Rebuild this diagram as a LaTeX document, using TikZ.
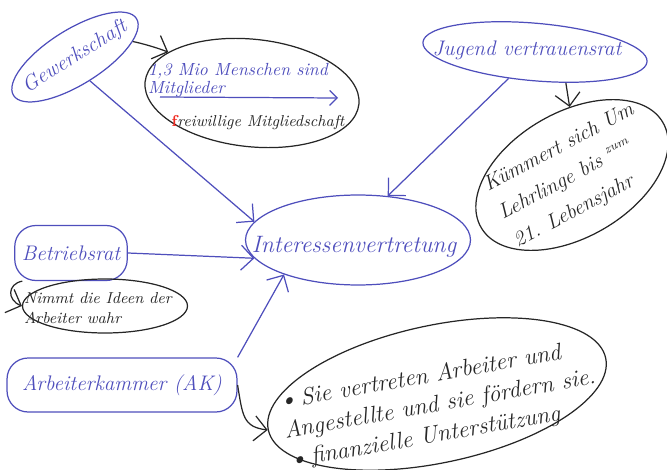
\documentclass[tikz,border=0pt]{standalone}
\usepackage{xcolor}
\usepackage{tikz}
\usetikzlibrary{arrows.meta, positioning, shapes.geometric}

\definecolor{penblue}{RGB}{78,78,188}
\definecolor{penblack}{RGB}{38,38,38}
\definecolor{penred}{RGB}{240,45,35}

\begin{document}
\begin{tikzpicture}[
    x=0.02cm, y=-0.02cm,
    bubble/.style={draw, ellipse, line width=0.7pt, inner sep=0pt},
    bluebubble/.style={bubble, draw=penblue},
    blackbubble/.style={bubble, draw=penblack},
    bluebox/.style={draw=penblue, rounded corners=12pt, line width=0.7pt, inner sep=0pt, text=penblue, font=\large\itshape},
    bluetext/.style={text=penblue, align=left, inner sep=0pt, font=\large\itshape},
    blacktext/.style={text=penblack, align=left, inner sep=0pt, font=\itshape},
    bluearrow/.style={-{Straight Barb[length=2.5mm]}, draw=penblue, line width=0.7pt},
    blackarrow/.style={-{Straight Barb[length=2.5mm]}, draw=penblack, line width=0.7pt}
  ]
    \useasboundingbox (0,0) rectangle (667,470);
    \node[bluebubble, rotate=32, minimum width=2.9cm, minimum height=1.1cm] (gewerkschaft) at (75,57) {};
    \node[bluetext, rotate=32] (gewerkschaft-text) at (gewerkschaft) {Gewerkschaft};
    \node[blackbubble, rotate=-6, minimum width=4.3cm, minimum height=2.15cm] (mitglied) at (252,93) {};
    \node[bluetext, font=\itshape] (menschen) at (238,80) {1,3 Mio Menschen sind\\[-2pt]Mitglieder};
    \node[blacktext, font=\small\itshape, below=0.35cm of menschen, xshift=0.4cm] (freiwillig) {\textcolor{penred}{\upshape\bfseries f}reiwillige Mitgliedschaft};
    \coordinate (strich-start) at (160,97);
    \coordinate (strich-end) at (338,98);
    \node[bluebubble, rotate=-5, minimum width=4.5cm, minimum height=1.15cm] (jugend) at (535,52) {};
    \node[bluetext] (jugend-text) at (527,50) {Jugend vertrauensrat};
    \node[blackbubble, rotate=30, minimum width=4.2cm, minimum height=2.5cm] (kuemmert) at (572,175) {};
    \node[blacktext, rotate=28, font=\large\itshape] (kuemmert-text) at (574,176) {Kümmert sich Um\\[4pt]Lehrlinge bis \raisebox{5pt}{\scriptsize zum}\\[4pt]21. Lebensjahr};
    \node[bluebubble, minimum width=4.5cm, minimum height=1.8cm] (interessen) at (358,240) {};
    \node[bluetext, font=\fontsize{13.5}{16}\itshape] (interessen-text) at (354,247) {Interessenvertretung};
    \node[bluebox, minimum width=2.25cm, minimum height=1.1cm] (betriebsrat) at (71,253) {Betriebsrat};
    \node[blackbubble, minimum width=3.3cm, minimum height=1.08cm] (nimmt) at (105,306) {};
    \node[blacktext, font=\small\itshape] (nimmt-text) at (98,308) {Nimmt die Ideen der\\Arbeiter wahr};
    \node[bluebox, minimum width=4.6cm, minimum height=1.08cm] (ak) at (122,385) {Arbeiterkammer (AK)};
    \node[blackbubble, rotate=12, minimum width=6.9cm, minimum height=2.75cm] (sie) at (437,394) {};
    \node[blacktext, rotate=10, font=\fontsize{13.5}{15}\itshape] (sie-text) at (440,405) {\textbullet\,Sie vertreten Arbeiter und\\[2pt]Angestellte und sie fördern sie.\\[2pt]\textbullet\,finanzielle Unterstützung};
    \draw[blackarrow] (gewerkschaft.-17) .. controls +(10,2) and +(-10,-4) .. (mitglied.160);
    \draw[bluearrow] (gewerkschaft.south) -- (interessen.170);
    \draw[bluearrow, -{Straight Barb[length=1.5mm]}] (strich-start) -- (strich-end);
    \draw[blackarrow] (jugend.320) -- (kuemmert.62);
    \draw[bluearrow] (jugend.230) -- (interessen.56);
    \draw[bluearrow] (betriebsrat.east) -- (interessen.190);
    \draw[blackarrow] (betriebsrat.-150) .. controls +(-15,3) and +(-15,-6) .. (nimmt.west);
    \draw[bluearrow] (ak.north east) -- (interessen.205);
    \draw[blackarrow] (ak.east) .. controls +(5,30) and +(-25,-3) .. (sie.west);
  \end{tikzpicture}
\end{document}
